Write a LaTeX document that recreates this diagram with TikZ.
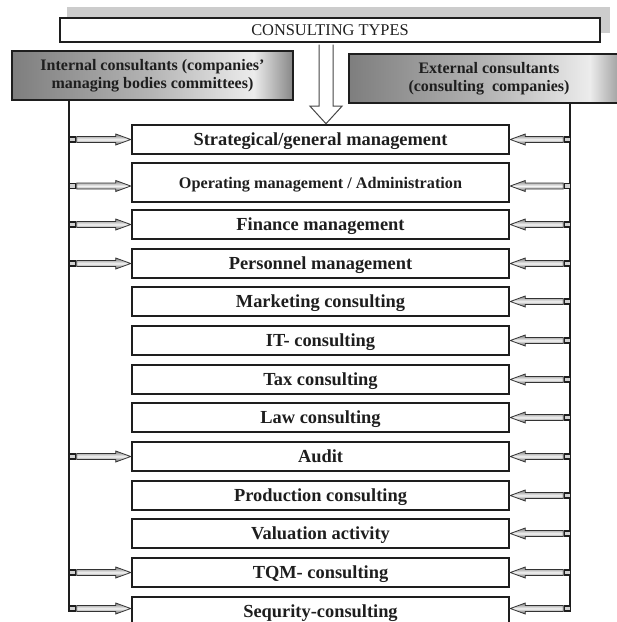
\documentclass[tikz,border=0pt]{standalone}
\usepackage{fontspec}
\setmainfont{Liberation Serif}
\usetikzlibrary{calc,backgrounds}
\definecolor{hA}{HTML}{7E7E7E}
\definecolor{hB}{HTML}{B5B5B5}
\definecolor{hC}{HTML}{ECECEC}
\definecolor{hD}{HTML}{878787}
\definecolor{ink}{HTML}{1E1E1E}
\pgfdeclarehorizontalshading{hdrshade}{100bp}{color(0bp)=(hA); color(25bp)=(hA); color(50bp)=(hB); color(68bp)=(hC); color(75bp)=(hD); color(100bp)=(hD)}
\newcommand\ConsInArrow[1]{%
  \draw[blk] (#1) -- ++(-15,-5.5) -- ++(0,2.5) -- ++(-39,0) -- ++(0,6) -- ++(39,0) -- ++(0,2.5) -- cycle;
  \draw[sq] (#1) ++(-61,-2.5) rectangle ++(6,5);}
\newcommand\ConsExArrow[1]{%
  \draw[blk] (#1) -- ++(15,-5.5) -- ++(0,2.5) -- ++(38,0) -- ++(0,6) -- ++(-38,0) -- ++(0,2.5) -- cycle;
  \draw[sq] (#1) ++(54,-2.5) rectangle ++(6,5);}
\tikzset{
  kind/.style={draw=ink, line width=2.6pt, fill=white, minimum width=377pt, minimum height=29pt, inner sep=0pt, text=ink, text height=12pt, text depth=0pt, font=\fontsize{18.4}{20}\selectfont\bfseries},
  hdr/.style={draw=ink, line width=2.6pt, shade, shading=hdrshade, minimum width=281pt, minimum height=49pt, inner sep=0pt, align=center, text=ink, font=\fontsize{16}{17.5}\selectfont\bfseries},
  titlebox/.style={draw=ink, line width=2.4pt, fill=white, minimum width=540pt, minimum height=24pt, inner sep=0pt, text=ink, text height=11pt, text depth=0pt, font=\fontsize{16.4}{18}\selectfont},
  vline/.style={draw=ink, line width=2pt},
  blk/.style={draw=gray!40!black, line width=0.8pt, top color=gray, bottom color=gray!70!black, middle color=gray!8},
  sq/.style={draw=ink, line width=1.2pt, fill=gray!35},
  bigarrow/.style={draw=gray!55!black, line width=1pt, fill=white},
}
\begin{document}
\begin{tikzpicture}[x=1pt,y=-1pt]
\useasboundingbox (0,0) rectangle (617,622);
\clip (0,0) rectangle (617,622);
% title
\node[titlebox] (ct) at (330,30) {CONSULTING TYPES};
\begin{scope}[on background layer]
  \fill[white] (0,0) rectangle (617,622);
  \fill[gray!40] ($(ct.north west)+(8,-10)$) rectangle ($(ct.south east)+(9,-10)$);
\end{scope}
% headers
\node[hdr] (int) at (152.5,75.5) {Internal consultants (companies'\\managing bodies committees)};
\node[hdr, minimum width=280pt] (ext) at (489,78.5) {External consultants\\(consulting\ \ companies)};
% consulting type boxes
\node[kind] (b1) at (320.5,139.5) {Strategical/general management};
\node[kind, minimum height=39pt, text height=11pt, font=\fontsize{16.2}{18}\selectfont\bfseries] (b2) at (320.5,182.5) {Operating management / Administration};
\node[kind] (b3) at (320.5,224.5) {Finance management};
\node[kind] (b4) at (320.5,263.5) {Personnel management};
\node[kind] (b5) at (320.5,301.5) {Marketing consulting};
\node[kind] (b6) at (320.5,340.5) {IT- consulting};
\node[kind] (b7) at (320.5,379.5) {Tax consulting};
\node[kind] (b8) at (320.5,417.5) {Law consulting};
\node[kind] (b9) at (320.5,456.5) {Audit};
\node[kind] (b10) at (320.5,495.5) {Production consulting};
\node[kind] (b11) at (320.5,533.5) {Valuation activity};
\node[kind] (b12) at (320.5,572.5) {TQM- consulting};
\node[kind] (b13) at (320.5,611.5) {Sequrity-consulting};
% big arrow
\coordinate (aS) at ($(ct.south)+(-4,1.5)$);
\draw[bigarrow] ($(aS)+(-7,0)$) -- ++(0,61.5) -- ++(-9,0) -- (aS |- b1.north) -- ($(aS)+(16,61.5)$) -- ++(-9,0) -- ($(aS)+(7,0)$);
% vertical lines
\coordinate (Lx) at (69,0);
\coordinate (Lbot) at (69,612);
\coordinate (Rx) at (570,0);
\coordinate (Rbot) at (570,610);
\draw[vline] (int.south -| Lx) -- (Lbot);
\draw[vline] (ext.south -| Rx) -- (Rbot);
% internal arrows
\ConsInArrow{b1.west}
\ConsInArrow{$(b2.west)+(0,3.5)$}
\ConsInArrow{b3.west}
\ConsInArrow{b4.west}
\ConsInArrow{b9.west}
\ConsInArrow{b12.west}
\ConsInArrow{$(b13.west)+(0,-3)$}
% external arrows
\ConsExArrow{b1.east}
\ConsExArrow{$(b2.east)+(0,3.5)$}
\ConsExArrow{b3.east}
\ConsExArrow{b4.east}
\ConsExArrow{b5.east}
\ConsExArrow{b6.east}
\ConsExArrow{b7.east}
\ConsExArrow{b8.east}
\ConsExArrow{b9.east}
\ConsExArrow{b10.east}
\ConsExArrow{b11.east}
\ConsExArrow{b12.east}
\ConsExArrow{$(b13.east)+(0,-3)$}
\end{tikzpicture}
\end{document}
